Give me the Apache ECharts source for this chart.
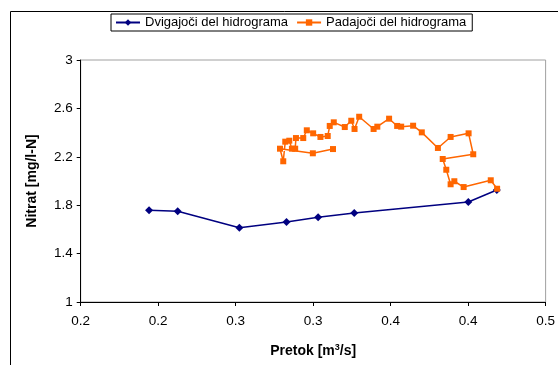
<!DOCTYPE html>
<html>
<head>
<meta charset="utf-8">
<script src="https://cdn.jsdelivr.net/npm/echarts@6/dist/echarts.min.js"></script>
<style>
html,body{margin:0;padding:0;background:#fff;}
#c{width:558px;height:365px;}
</style>
</head>
<body>
<div id="c"></div>
<script>
// ---- data ----
var seriesNames = ['Dvigajoči del hidrograma', 'Padajoči del hidrograma'];
var risingX = [0.1941, 0.2126, 0.2524, 0.2828, 0.3032, 0.3265, 0.4001, 0.4185];
var risingY = [1.758, 1.750, 1.614, 1.661, 1.700, 1.736, 1.826, 1.926];
var fallingX = [0.4187, 0.4146, 0.3971, 0.3911, 0.3887, 0.3859, 0.3836, 0.4033, 0.4003, 0.3887,
                0.3805, 0.3701, 0.3645, 0.3568, 0.3542, 0.3490, 0.3414, 0.3390, 0.3297, 0.3267,
                0.3246, 0.3204, 0.3133, 0.3107, 0.3094, 0.3047, 0.3000, 0.2959, 0.2936, 0.2889,
                0.2884, 0.2863, 0.2846, 0.2820, 0.2807, 0.2786, 0.2998, 0.3128];
var fallingY = [1.936, 2.006, 1.950, 1.998, 1.973, 2.093, 2.182, 2.221, 2.394, 2.364,
                2.273, 2.402, 2.457, 2.449, 2.455, 2.515, 2.449, 2.430, 2.531, 2.430,
                2.498, 2.446, 2.485, 2.455, 2.372, 2.364, 2.394, 2.419, 2.355, 2.355,
                2.267, 2.267, 2.333, 2.325, 2.163, 2.267, 2.229, 2.264];
var xTickLabels = ['0.2', '0.2', '0.3', '0.3', '0.4', '0.4', '0.5'];
var yTickLabels = ['1', '1.4', '1.8', '2.2', '2.6', '3'];
var xMin = 0.15, xMax = 0.45, xStep = 0.05;
var yMin = 1, yMax = 3, yStep = 0.4;

function zip(a, b) { return a.map(function (v, i) { return [v, b[i]]; }); }

var font = 'Liberation Sans, Arial, sans-serif';
var chart = echarts.init(document.getElementById('c'), null, {renderer: 'canvas'});
chart.setOption({
  backgroundColor: '#fff',
  animation: false,
  graphic: [{
    type: 'rect', z: -10,
    shape: {x: 10.5, y: 11.5, width: 700, height: 500},
    style: {fill: 'none', stroke: '#000', lineWidth: 1}
  }],
  legend: {
    top: 14, left: 111,
    width: 364, height: 19,
    padding: [2, 6, 2, 4],
    itemGap: 8,
    itemWidth: 24, itemHeight: 8,
    borderColor: '#000', borderWidth: 1,
    textStyle: {fontFamily: font, fontSize: 13, color: '#000'},
    data: seriesNames
  },
  grid: {
    left: 80.7, right: 10.7, top: 60, bottom: 63,
    show: true, borderColor: '#a0a0a0', borderWidth: 1, backgroundColor: '#fff'
  },
  xAxis: {
    type: 'value', min: xMin, max: xMax, interval: xStep,
    name: 'Pretok [m{sup|3}/s]', nameLocation: 'middle', nameGap: 41,
    nameTextStyle: {fontFamily: font, fontSize: 14, fontWeight: 'bold', color: '#000',
      rich: {sup: {fontFamily: font, fontSize: 9, fontWeight: 'bold', verticalAlign: 'top', padding: [0, 0, 8, 0], color: '#000'}}},
    axisLine: {lineStyle: {color: '#000', width: 1}},
    axisTick: {show: true, inside: false, length: 4, lineStyle: {color: '#000'}},
    axisLabel: {fontFamily: font, fontSize: 13.5, color: '#000', margin: 12,
      formatter: function (v) { return xTickLabels[Math.round((v - xMin) / xStep)]; }},
    splitLine: {show: false}
  },
  yAxis: {
    type: 'value', min: yMin, max: yMax, interval: yStep,
    name: 'Nitrat [mg/l-N]', nameLocation: 'middle', nameGap: 42, nameRotate: 90,
    nameTextStyle: {fontFamily: font, fontSize: 14, fontWeight: 'bold', color: '#000'},
    axisLine: {show: true, lineStyle: {color: '#000', width: 1}},
    axisTick: {show: true, inside: false, length: 4, lineStyle: {color: '#000'}},
    axisLabel: {fontFamily: font, fontSize: 13.5, color: '#000', margin: 8,
      formatter: function (v) { return yTickLabels[Math.round((v - yMin) / yStep)]; }},
    splitLine: {show: false}
  },
  series: [{
    name: seriesNames[0], type: 'line',
    data: zip(risingX, risingY),
    symbol: 'diamond', symbolSize: 8,
    lineStyle: {color: '#000080', width: 1.5},
    itemStyle: {color: '#000080'}
  }, {
    name: seriesNames[1], type: 'line',
    data: zip(fallingX, fallingY),
    symbol: 'rect', symbolSize: 6,
    lineStyle: {color: '#FF6600', width: 1.5},
    itemStyle: {color: '#FF6600'}
  }]
});
</script>
</body>
</html>
